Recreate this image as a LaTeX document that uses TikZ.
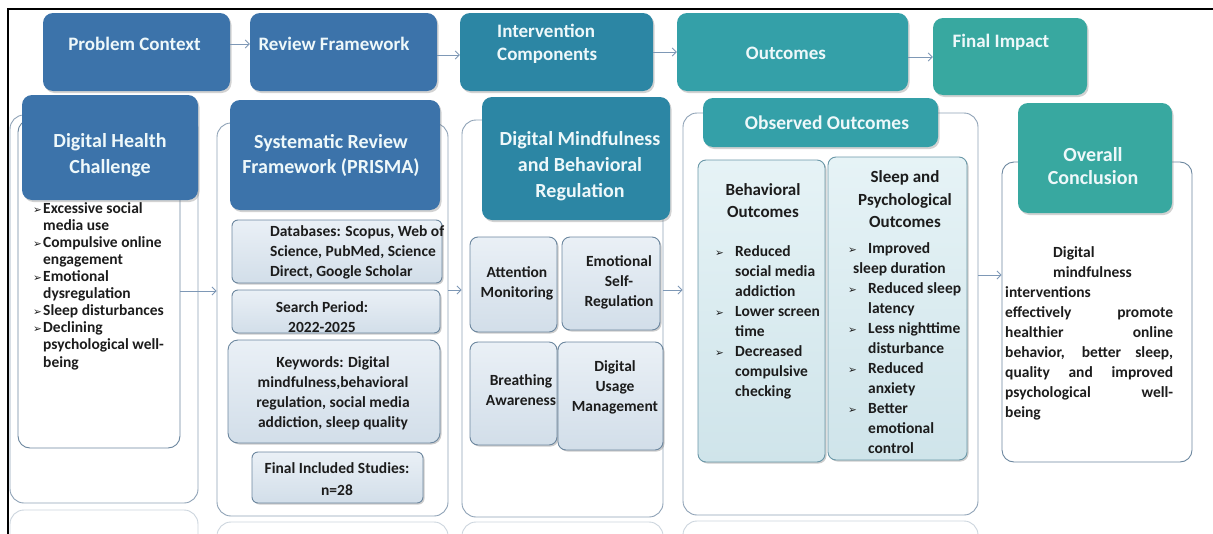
\documentclass[tikz,border=0pt]{standalone}
\usepackage{fontspec}
\setmainfont{Carlito}
\newfontfamily\dvfont{DejaVu Sans}
\usetikzlibrary{shadows,arrows.meta}
\definecolor{hblue}{HTML}{3C73AA}
\definecolor{hteal}{HTML}{2C86A4}
\definecolor{hcyan}{HTML}{34A0A8}
\definecolor{hgreen}{HTML}{38A8A0}
\definecolor{htc}{HTML}{EEF8FA}
\definecolor{contc}{HTML}{8EA2B6}
\definecolor{sbc}{HTML}{6C879F}
\definecolor{sbt}{HTML}{EAF0F6}
\definecolor{sbb}{HTML}{D2DEE9}
\definecolor{sct}{HTML}{E6F3F6}
\definecolor{scb}{HTML}{CFE4EA}
\definecolor{scc}{HTML}{6A98A8}
\definecolor{arrc}{HTML}{7E98B6}
\definecolor{txc}{HTML}{1C1C1C}
\newcommand\myb{\makebox[10pt][l]{\dvfont\fontsize{10.5}{10}\selectfont ➢}}
\newcommand\mybw{\makebox[20pt][l]{\dvfont\fontsize{10.5}{10}\selectfont ➢}}
\begin{document}
\begin{tikzpicture}[x=1pt,y=-1pt,
  cont/.style={draw=contc, line width=0.9pt, rounded corners=14pt, fill=white, inner sep=0pt},
  hdr/.style={rounded corners=10pt, inner sep=0pt, drop shadow={opacity=0.35,shadow xshift=1.5pt,shadow yshift=-2pt}},
  sbox/.style={draw=sbc, line width=0.9pt, rounded corners=6pt, inner sep=0pt, top color=sbt, bottom color=sbb, drop shadow={opacity=0.4,shadow xshift=1.5pt,shadow yshift=-1.5pt}},
  cbox/.style={draw=scc, line width=0.9pt, rounded corners=8pt, inner sep=0pt, top color=sct, bottom color=scb, drop shadow={opacity=0.4,shadow xshift=1.5pt,shadow yshift=-1.5pt}},
  htxt/.style={text=htc, font=\bfseries\fontsize{19}{24}\selectfont, align=center, inner sep=0pt},
  htxtb/.style={text=htc, font=\bfseries\fontsize{20}{25.5}\selectfont, align=center, inner sep=0pt},
  btxt/.style={text=txc, font=\bfseries\fontsize{15.5}{20}\selectfont, inner sep=0pt},
  ttxt/.style={text=txc, font=\bfseries\fontsize{17}{22}\selectfont, inner sep=0pt, align=center},
  arr/.style={draw=arrc, line width=0.9pt, -{Straight Barb[length=4pt,width=8pt]}},
  refl/.style={draw=contc!45, line width=0.9pt, rounded corners=14pt}
]
\useasboundingbox (0,0) rectangle (1213,533);
\clip (0,0) rectangle (1213,533);
\fill[white] (0,0) rectangle (1213,533);
\draw[line width=1.6pt] (8,540) -- (8,9) -- (1215,9);

% ---------- top row ----------
\node[hdr, fill=hblue, minimum width=187pt, minimum height=78pt] (pc) at (136.5,52) {};
\node[htxt] (tpc) at (134.5,44) {Problem Context};
\node[hdr, fill=hblue, minimum width=187pt, minimum height=78pt] (rf) at (343.5,52) {};
\node[htxt] (trf) at (334,44) {Review Framework};
\node[hdr, fill=hteal, minimum width=193pt, minimum height=78pt] (ic) at (556.5,52) {};
\node[htxt, align=left, anchor=west, font=\bfseries\fontsize{19}{23}\selectfont] (tic) at (497,43.5) {Intervention\\Components};
\node[hdr, fill=hcyan, minimum width=231pt, minimum height=78pt] (oc) at (792.5,52) {};
\node[htxt] (toc) at (786,53) {Outcomes};
\node[hdr, fill=hgreen, minimum width=154pt, minimum height=77pt] (fi) at (1010,56.5) {};
\node[htxt] (tfi) at (1001,42) {Final Impact};

\draw[arr] (pc.east |- 0,44) -- (rf.west |- 0,44);
\draw[arr] (rf.east |- 0,55) -- (ic.west |- 0,55);
\draw[arr] (ic.east |- 0,52) -- (oc.west |- 0,52);
\draw[arr] (oc.east |- 0,57) -- (fi.west |- 0,57);

% ---------- reflections ----------
\draw[refl] (10,560) -- (10,510) -- (198,510) -- (198,560);
\draw[refl] (217,560) -- (217,522) -- (448,522) -- (448,560);
\draw[refl] (462,560) -- (462,522) -- (663,522) -- (663,560);
\draw[refl] (683,560) -- (683,521) -- (978,521) -- (978,560);

% ---------- column 1 ----------
\node[cont, minimum width=188pt, minimum height=388pt] (c1) at (104,309) {};
\node[cont, draw=sbc, rounded corners=12pt, minimum width=162pt, minimum height=328pt] (b1) at (99,284) {};
\node[hdr, fill=hblue, minimum width=176pt, minimum height=105pt] (h1) at (110,147.5) {};
\node[htxtb] (th1) at (110,155) {Digital Health\\Challenge};
\node[btxt, align=left, anchor=west, font=\bfseries\fontsize{15.5}{17.1}\selectfont] (t1) at (33,286) {\myb Excessive social\\
\hspace*{10pt}media use\\
\myb Compulsive online\\
\hspace*{10pt}engagement\\
\myb Emotional\\
\hspace*{10pt}dysregulation\\
\myb Sleep disturbances\\
\myb Declining\\
\hspace*{10pt}psychological well-\\
\hspace*{10pt}being};

% ---------- column 2 ----------
\node[cont, minimum width=231pt, minimum height=393pt] (c2) at (332.5,319.5) {};
\node[hdr, fill=hblue, minimum width=210pt, minimum height=110pt] (h2) at (335,155) {};
\node[htxtb] (th2) at (331,155.5) {Systematic Review\\Framework (PRISMA)};
\node[sbox, minimum width=210pt, minimum height=63pt] (db) at (337,251.5) {};
\node[btxt, align=left, anchor=west] (tdb) at (270,252) {Databases: Scopus, Web of\\Science, PubMed, Science\\Direct, Google Scholar};
\node[sbox, minimum width=208pt, minimum height=43pt] (sp) at (336,311.5) {};
\node[btxt, align=center] (tsp) at (322,317) {Search Period:\\2022-2025};
\node[sbox, rounded corners=10pt, minimum width=212pt, minimum height=103pt] (kw) at (334,391.5) {};
\node[btxt, align=center] (tkw) at (333,393) {Keywords: Digital\\mindfulness,behavioral\\regulation, social media\\addiction, sleep quality};
\node[sbox, minimum width=171pt, minimum height=51pt] (fs) at (337.5,477.5) {};
\node[btxt, align=center, font=\bfseries\fontsize{15.5}{21.5}\selectfont] (tfs) at (337,479) {Final Included Studies:\\n=28};

% ---------- column 3 ----------
\node[cont, minimum width=201pt, minimum height=397pt] (c3) at (562.5,318.5) {};
\node[hdr, fill=hteal, minimum width=188pt, minimum height=123pt] (h3) at (576,158.5) {};
\node[htxtb, font=\bfseries\fontsize{20}{26}\selectfont] (th3) at (580,166) {Digital Mindfulness\\and Behavioral\\Regulation};
\node[sbox, rounded corners=8pt, minimum width=87pt, minimum height=95pt] (am) at (513.5,284.5) {};
\node[btxt, align=center] (tam) at (517,283) {Attention\\Monitoring};
\node[sbox, rounded corners=8pt, minimum width=98pt, minimum height=93pt] (es) at (611,283.5) {};
\node[btxt, align=center] (tes) at (619,282) {Emotional\\Self-\\Regulation};
\node[sbox, rounded corners=8pt, minimum width=87pt, minimum height=103pt] (ba) at (513.5,393.5) {};
\node[btxt, align=center] (tba) at (521,390) {Breathing\\Awareness};
\node[sbox, rounded corners=8pt, minimum width=105pt, minimum height=108pt] (du) at (610.5,396) {};
\node[btxt, align=center] (tdu) at (615,387) {Digital\\Usage\\Management};

% ---------- column 4 ----------
\node[cont, minimum width=295pt, minimum height=402pt] (c4) at (830.5,314) {};
\node[hdr, fill=hcyan, minimum width=235pt, minimum height=49pt] (h4) at (820.5,122.5) {};
\node[htxt, font=\bfseries\fontsize{19.5}{24}\selectfont] (th4) at (827,123) {Observed Outcomes};
\node[cbox, minimum width=127pt, minimum height=302pt] (bo) at (761.5,311) {};
\node[ttxt] (tbo1) at (763,201) {Behavioral\\Outcomes};
\node[btxt, align=left, anchor=west, font=\bfseries\fontsize{15.5}{19.9}\selectfont] (tbo2) at (715,322.5) {\mybw Reduced\\
\hspace*{20pt}social media\\
\hspace*{20pt}addiction\\
\mybw Lower screen\\
\hspace*{20pt}time\\
\mybw Decreased\\
\hspace*{20pt}compulsive\\
\hspace*{20pt}checking};
\node[cbox, minimum width=139pt, minimum height=303pt] (so) at (897.5,308.5) {};
\node[ttxt, font=\bfseries\fontsize{17}{22.5}\selectfont] (tso1) at (905,199.5) {Sleep and\\Psychological\\Outcomes};
\node[btxt, align=left, anchor=west] (tso2) at (848,348) {\mybw Improved\\
\hspace*{5pt}sleep duration\\
\mybw Reduced sleep\\
\hspace*{20pt}latency\\
\mybw Less nighttime\\
\hspace*{20pt}disturbance\\
\mybw Reduced\\
\hspace*{20pt}anxiety\\
\mybw Better\\
\hspace*{20pt}emotional\\
\hspace*{20pt}control};

% ---------- column 5 ----------
\node[cont, draw=sbc, rounded corners=12pt, minimum width=190pt, minimum height=300pt] (b5) at (1097,312) {};
\node[hdr, fill=hgreen, minimum width=154pt, minimum height=110pt] (h5) at (1095,158) {};
\node[htxtb, font=\bfseries\fontsize{20}{23}\selectfont] (th5) at (1093,166.5) {Overall\\Conclusion};
\node[btxt, align=left, anchor=west] (t5a) at (1053,262) {Digital\\mindfulness};
\node[btxt, align=left, anchor=west] (t5b) at (1005,353) {interventions\\
\makebox[168pt][s]{effectively promote}\\
\makebox[168pt][s]{healthier online}\\
\makebox[168pt][s]{behavior, better sleep,}\\
\makebox[168pt][s]{quality and improved}\\
\makebox[168pt][s]{psychological well-}\\
being};

% ---------- column arrows ----------
\draw[arr] (b1.east |- 0,291) -- (c2.west |- 0,291);
\draw[arr] (c2.east |- 0,290) -- (c3.west |- 0,290);
\draw[arr] (c3.east |- 0,290) -- (c4.west |- 0,290);
\draw[arr] (c4.east |- 0,275) -- (b5.west |- 0,275);
\end{tikzpicture}
\end{document}
